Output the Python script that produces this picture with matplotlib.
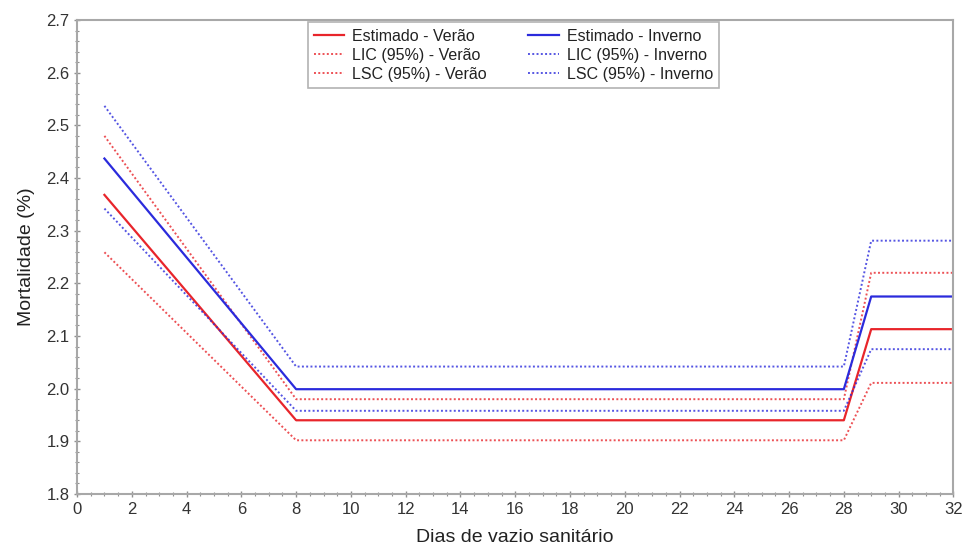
import matplotlib
matplotlib.use("Agg")
import matplotlib.pyplot as plt
from matplotlib.ticker import MultipleLocator

plt.rcParams['font.family'] = ['Liberation Sans', 'DejaVu Sans']

# dias de vazio sanitário (pontos de quebra)
dias = [1, 8, 28, 29, 32]

# Verão
est_verao = [2.368, 1.940, 1.940, 2.113, 2.113]
lic_verao = [2.259, 1.902, 1.902, 2.011, 2.011]
lsc_verao = [2.480, 1.980, 1.980, 2.220, 2.220]

# Inverno
est_inverno = [2.437, 1.999, 1.999, 2.175, 2.175]
lic_inverno = [2.342, 1.958, 1.958, 2.075, 2.075]
lsc_inverno = [2.537, 2.042, 2.042, 2.281, 2.281]

red = '#e8252b'
blue = '#2b2bdc'

fig = plt.figure(figsize=(9.63, 5.56), dpi=100)
ax = fig.add_axes([0.080, 0.1115, 0.910, 0.8525])

dot = (0, (1, 1.2))
ax.plot(dias, est_verao, color=red, lw=1.6, label='Estimado - Verão')
ax.plot(dias, lic_verao, color=red, lw=1.4, ls=dot, alpha=0.8, label='LIC (95%) - Verão')
ax.plot(dias, lsc_verao, color=red, lw=1.4, ls=dot, alpha=0.8, label='LSC (95%) - Verão')
ax.plot(dias, est_inverno, color=blue, lw=1.6, label='Estimado - Inverno')
ax.plot(dias, lic_inverno, color=blue, lw=1.4, ls=dot, alpha=0.8, label='LIC (95%) - Inverno')
ax.plot(dias, lsc_inverno, color=blue, lw=1.4, ls=dot, alpha=0.8, label='LSC (95%) - Inverno')

ax.set_xlim(0, 32)
ax.set_ylim(1.8, 2.7)
ax.xaxis.set_major_locator(MultipleLocator(2))
ax.xaxis.set_minor_locator(MultipleLocator(0.5))
ax.yaxis.set_major_locator(MultipleLocator(0.1))
ax.yaxis.set_minor_locator(MultipleLocator(0.02))
ax.yaxis.set_major_formatter(plt.FormatStrFormatter('%.1f'))

for s in ax.spines.values():
    s.set_color('#a8a8a8')
    s.set_linewidth(1.5)
ax.tick_params(which='major', direction='inout', length=5, width=1, color='#909090',
               labelsize=12, labelcolor='#333333', pad=3)
ax.tick_params(which='minor', direction='inout', length=3, width=0.8, color='#909090')

ax.set_xlabel('Dias de vazio sanitário', fontsize=14, color='#222222', labelpad=9)
ax.set_ylabel('Mortalidade (%)', fontsize=14, color='#222222', labelpad=8)

handles, labels = ax.get_legend_handles_labels()
leg = ax.legend(handles, labels, ncol=2, loc='upper center', bbox_to_anchor=(0.498, 1.0),
                borderaxespad=0.15, fontsize=11.5, frameon=True, fancybox=False,
                handlelength=1.9, columnspacing=2.6, labelspacing=0.25, borderpad=0.4,
                handletextpad=0.5)
leg.get_frame().set_edgecolor('#a0a0a0')
leg.get_frame().set_linewidth(1.2)
for t in leg.get_texts():
    t.set_color('#222222')

fig.savefig('out.png', dpi=100)
